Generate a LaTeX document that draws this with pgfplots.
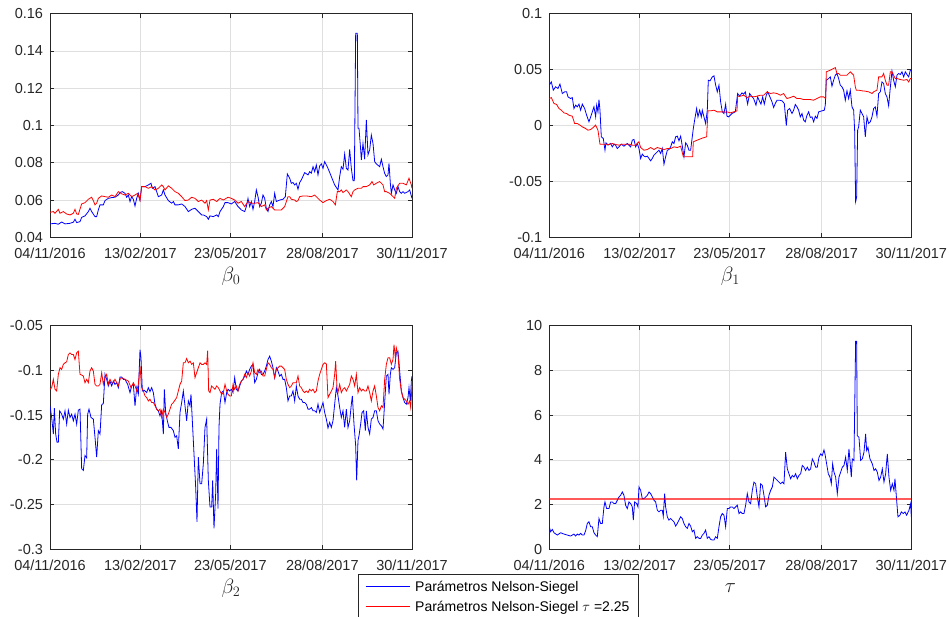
\documentclass[border=0pt]{standalone}
\usepackage{pgfplots}
\pgfplotsset{compat=1.18}
\usepackage{fontspec}
\setmainfont{Liberation Sans}
\definecolor{axisgray}{RGB}{38,38,38}
\definecolor{gridgray}{RGB}{223,223,223}
\definecolor{pureblue}{RGB}{0,0,255}
\definecolor{purered}{RGB}{255,0,0}
\pgfplotsset{
  mstyle/.style={
    scale only axis, width=362bp, height=223.6bp,
    xmin=0, xmax=1086,
    xtick={0,271,541,817,1086},
    xticklabels={04/11/2016,13/02/2017,23/05/2017,28/08/2017,30/11/2017},
    grid=major, grid style={color=gridgray, line width=0.7bp},
    axis line style={color=axisgray, line width=0.8bp},
    tick style={color=axisgray, line width=0.8bp},
    major tick length=4bp, tick align=inside,
    ticklabel style={font=\fontsize{14.5bp}{17bp}\selectfont, text=axisgray},
    xticklabel style={yshift=-7.5bp},
    yticklabel style={xshift=-3.5bp},
    x label style={at={(axis description cs:0.5,0)}, anchor=center, yshift=-39bp, font=\fontsize{20bp}{22bp}\selectfont, text=axisgray},
    every axis plot/.append style={line width=0.8bp},
    bl/.style={draw=pureblue, color=pureblue, mark=none},
    rd/.style={draw=purered, color=purered, mark=none},
  }
}
\begin{document}
\begin{tikzpicture}
\useasboundingbox (0,0) rectangle (949bp,617bp);
% beta0
\begin{axis}[mstyle, at={(50bp,379.7bp)}, anchor=south west,
  ymin=0.04, ymax=0.16, ytick={0.04,0.06,0.08,0.1,0.12,0.14,0.16},
  yticklabels={0.04,0.06,0.08,0.1,0.12,0.14,0.16}, xlabel={$\beta_0$}]
\addplot[bl] coordinates {(0,0.0472)(15,0.0475)(25,0.0470)(35,0.0482)(45,0.0472)(60,0.0475)(70,0.0481)(75,0.0497)(80,0.0479)(90,0.0484)(95,0.0507)(105,0.0515)(115,0.0538)(120,0.0556)(125,0.0538)(135,0.0511)(140,0.0511)(145,0.0547)(150,0.0574)(160,0.0574)(165,0.0597)(175,0.0609)(185,0.0613)(195,0.0615)(205,0.0627)(210,0.0640)(217,0.0645)(225,0.0636)(230,0.0615)(235,0.0627)(240,0.0592)(245,0.0618)(250,0.0604)(255,0.0568)(260,0.0609)(265,0.0636)(270,0.0600)(275,0.0672)(285,0.0672)(295,0.0681)(303,0.0690)(307,0.0663)(315,0.0672)(320,0.0645)(325,0.0618)(335,0.0627)(340,0.0654)(345,0.0627)(355,0.0597)(365,0.0583)(370,0.0592)(375,0.0574)(385,0.0574)(395,0.0579)(405,0.0565)(415,0.0538)(425,0.0550)(435,0.0556)(445,0.0538)(455,0.0520)(460,0.0520)(470,0.0511)(475,0.0497)(480,0.0515)(490,0.0511)(500,0.0520)(505,0.0511)(510,0.0538)(520,0.0565)(525,0.0586)
(534,0.0586)(544,0.0579)(554,0.0592)(564,0.0565)(574,0.0547)(584,0.0538)(589,0.0565)(594,0.0609)(599,0.0565)(604,0.0592)(609,0.0550)(614,0.0592)(619,0.0654)(624,0.0618)(629,0.0565)(634,0.0583)(639,0.0627)(644,0.0609)(649,0.0556)(654,0.0538)(659,0.0574)(664,0.0592)(669,0.0565)(674,0.0636)(679,0.0592)(689,0.0600)(699,0.0604)(706,0.0618)(712,0.0740)(719,0.0717)(724,0.0690)(729,0.0694)(734,0.0681)(739,0.0690)(744,0.0658)(749,0.0694)(754,0.0708)(764,0.0747)(774,0.0735)(779,0.0752)(784,0.0744)(789,0.0779)(794,0.0752)(799,0.0788)(804,0.0735)(809,0.0783)(814,0.0794)(819,0.0770)(824,0.0806)(829,0.0788)(834,0.0770)(844,0.0726)(854,0.0681)(864,0.0654)(869,0.0726)(874,0.0779)(879,0.0765)(884,0.0847)(889,0.0770)(894,0.0761)(899,0.0872)(904,0.0770)(909,0.0704)(913,0.0704)(917,0.1495)(922,0.1495)(924,0.0985)(927,0.0985)(932,0.0869)(934,0.0815)(939,0.0904)(944,0.0819)(949,0.1030)(954,0.0842)(959,0.0869)(964,0.0949)(969,0.0904)(974,0.0806)(979,0.0794)(989,0.0779)(994,0.0819)(999,0.0779)(1004,0.0743)(1009,0.0726)(1014,0.0735)(1017,0.0797)(1021,0.0690)(1024,0.0636)(1029,0.0681)(1034,0.0654)(1039,0.0636)(1044,0.0672)(1049,0.0645)(1054,0.0636)(1059,0.0645)(1064,0.0636)(1074,0.0645)(1079,0.0654)(1086,0.0609)};
\addplot[rd] coordinates {(0,0.0534)(10,0.0538)(15,0.0529)(25,0.0550)(30,0.0529)(40,0.0538)(50,0.0525)(60,0.0520)(70,0.0529)(75,0.0550)(80,0.0525)(85,0.0523)(95,0.0579)(105,0.0586)(115,0.0604)(125,0.0615)(130,0.0597)(135,0.0574)(140,0.0583)(145,0.0609)(155,0.0622)(165,0.0618)(175,0.0615)(185,0.0627)(195,0.0618)(205,0.0645)(215,0.0633)(225,0.0627)(235,0.0636)(245,0.0618)(255,0.0627)(263,0.0636)(270,0.0597)(275,0.0672)(285,0.0672)(295,0.0663)(305,0.0672)(315,0.0654)(325,0.0663)(335,0.0681)(340,0.0672)(345,0.0654)(355,0.0676)(365,0.0663)(375,0.0645)(385,0.0636)(395,0.0618)(405,0.0597)(415,0.0600)(425,0.0615)(435,0.0609)(445,0.0592)(455,0.0600)(465,0.0583)(470,0.0597)(475,0.0547)(480,0.0600)(490,0.0604)(500,0.0592)(510,0.0609)(520,0.0600)
(534,0.0615)(544,0.0609)(554,0.0600)(564,0.0583)(574,0.0592)(584,0.0565)(594,0.0592)(604,0.0583)(614,0.0583)(624,0.0586)(634,0.0565)(644,0.0574)(649,0.0547)(654,0.0556)(664,0.0565)(674,0.0547)(684,0.0547)(694,0.0547)(704,0.0565)(709,0.0592)(714,0.0618)(719,0.0618)(724,0.0604)(734,0.0600)(739,0.0592)(744,0.0597)(749,0.0618)(759,0.0622)(769,0.0622)(784,0.0618)(794,0.0627)(799,0.0618)(809,0.0600)(819,0.0586)(829,0.0597)(839,0.0604)(849,0.0592)(856,0.0574)(862,0.0645)(869,0.0645)(874,0.0654)(879,0.0640)(889,0.0654)(894,0.0645)(904,0.0618)(909,0.0645)(914,0.0654)(924,0.0663)(934,0.0663)(939,0.0672)(949,0.0672)(959,0.0681)(966,0.0699)(971,0.0681)(979,0.0690)(989,0.0699)(999,0.0681)(1004,0.0645)(1009,0.0645)(1019,0.0636)(1029,0.0618)(1034,0.0609)(1039,0.0663)(1049,0.0690)(1059,0.0690)(1069,0.0681)(1077,0.0717)(1084,0.0681)(1086,0.0663)};
\end{axis}
% beta1
\begin{axis}[mstyle, at={(549.3bp,379.7bp)}, anchor=south west,
  ymin=-0.1, ymax=0.1, ytick={-0.1,-0.05,0,0.05,0.1},
  yticklabels={-0.1,-0.05,0,0.05,0.1}, xlabel={$\beta_1$}]
\addplot[bl] coordinates {(0,0.0361)(6,0.0390)(12,0.0316)(19,0.0346)(26,0.0331)(32,0.0370)(39,0.0286)(46,0.0301)(52,0.0301)(56,0.0256)(64,0.0241)(69,0.0250)(74,0.0152)(79,0.0182)(84,0.0167)(89,0.0191)(94,0.0137)(99,0.0191)(106,0.0152)(112,0.0092)(119,0.0033)(124,0.0077)(129,0.0122)(134,0.0167)(139,0.0077)(142,0.0182)(146,0.0122)(149,0.0232)(152,0.0137)(156,-0.0101)(162,-0.0116)(167,-0.0221)(170,-0.0155)(176,-0.0176)(184,-0.0161)(189,-0.0191)(194,-0.0167)(199,-0.0176)(204,-0.0206)(209,-0.0191)(216,-0.0167)(224,-0.0185)(234,-0.0161)(239,-0.0176)(244,-0.0191)(249,-0.0131)(254,-0.0125)(259,-0.0191)(264,-0.0161)(269,-0.0206)(274,-0.0295)(279,-0.0256)(284,-0.0274)(289,-0.0280)(294,-0.0274)(304,-0.0316)(309,-0.0295)(314,-0.0265)(324,-0.0235)(329,-0.0221)(334,-0.0250)(339,-0.0206)(344,-0.0346)(349,-0.0280)(354,-0.0221)(359,-0.0215)(364,-0.0191)(369,-0.0146)(374,-0.0161)(379,-0.0101)(384,-0.0095)(389,-0.0137)(394,-0.0095)(399,-0.0185)(404,-0.0280)(409,-0.0155)(414,-0.0176)(419,-0.0221)(424,-0.0221)(432,-0.0027)(436,0.0048)(442,0.0152)(446,0.0077)(451,0.0137)(456,0.0077)(459,0.0137)(464,0.0077)(469,0.0018)(474,0.0137)(477,0.0405)(482,0.0399)(489,0.0435)(494,0.0444)(499,0.0361)(504,0.0301)(509,0.0361)(514,0.0212)(519,0.0122)(524,0.0107)(529,0.0191)
(533,0.0083)(538,0.0077)(548,0.0107)(558,0.0122)(565,0.0286)(571,0.0262)(578,0.0292)(583,0.0280)(588,0.0301)(595,0.0191)(601,0.0286)(608,0.0256)(613,0.0241)(620,0.0182)(625,0.0256)(630,0.0221)(635,0.0191)(640,0.0256)(645,0.0191)(651,0.0271)(655,0.0301)(661,0.0262)(668,0.0212)(673,0.0161)(678,0.0197)(683,0.0226)(691,0.0226)(698,0.0221)(705,0.0197)(711,0.0000)(715,0.0137)(721,0.0152)(728,0.0107)(733,0.0137)(738,0.0188)(743,0.0167)(748,0.0137)(753,0.0077)(758,0.0107)(763,0.0048)(768,0.0033)(773,0.0092)(778,0.0122)(783,0.0072)(788,0.0077)(793,0.0033)(798,0.0083)(803,0.0063)(808,0.0122)(818,0.0131)(825,0.0137)(828,0.0182)(831,0.0405)(838,0.0420)(843,0.0435)(848,0.0352)(853,0.0405)(858,0.0450)(863,0.0465)(868,0.0420)(873,0.0361)(878,0.0346)(883,0.0316)(888,0.0226)(893,0.0310)(898,0.0241)(903,0.0316)(908,0.0167)(913,0.0137)(916,-0.0042)(919,-0.0682)(922,-0.0638)(925,-0.0042)(928,-0.0012)(933,0.0137)(938,0.0107)(943,0.0077)(948,-0.0101)(953,0.0077)(958,0.0018)(963,0.0033)(968,0.0077)(973,0.0152)(978,0.0167)(983,0.0083)(988,0.0286)(993,0.0301)(998,0.0390)(1003,0.0375)(1008,0.0286)(1013,0.0256)(1018,0.0176)(1023,0.0340)(1028,0.0486)(1033,0.0405)(1038,0.0346)(1043,0.0450)(1048,0.0465)(1053,0.0456)(1058,0.0480)(1063,0.0435)(1068,0.0480)(1073,0.0456)(1078,0.0435)(1083,0.0495)(1086,0.0495)};
\addplot[rd] coordinates {(0,0.0241)(6,0.0250)(14,0.0197)(22,0.0188)(29,0.0152)(36,0.0137)(44,0.0113)(52,0.0107)(59,0.0092)(69,0.0083)(76,0.0018)(84,0.0018)(92,0.0003)(99,-0.0012)(109,-0.0027)(116,-0.0042)(124,-0.0036)(134,-0.0012)(139,0.0003)(146,-0.0042)(152,-0.0167)(159,-0.0167)(169,-0.0167)(179,-0.0170)(189,-0.0161)(199,-0.0170)(209,-0.0176)(219,-0.0167)(229,-0.0167)(239,-0.0167)(249,-0.0176)(259,-0.0176)(269,-0.0146)(274,-0.0197)(284,-0.0221)(294,-0.0215)(304,-0.0197)(314,-0.0215)(324,-0.0197)(334,-0.0206)(344,-0.0215)(354,-0.0206)(364,-0.0206)(374,-0.0191)(384,-0.0197)(394,-0.0185)(402,-0.0280)(414,-0.0280)(424,-0.0280)(430,-0.0280)(432,-0.0146)(439,-0.0137)(449,-0.0125)(459,-0.0113)(472,-0.0101)(476,0.0131)(484,0.0131)(494,0.0137)(504,0.0122)(514,0.0122)(524,0.0122)(529,0.0119)
(533,0.0122)(543,0.0113)(553,0.0122)(563,0.0131)(565,0.0262)(573,0.0262)(583,0.0271)(593,0.0250)(603,0.0262)(613,0.0256)(623,0.0262)(633,0.0271)(643,0.0271)(653,0.0301)(663,0.0286)(673,0.0292)(683,0.0286)(693,0.0271)(703,0.0286)(708,0.0262)(713,0.0241)(723,0.0250)(733,0.0262)(743,0.0241)(753,0.0241)(763,0.0232)(773,0.0232)(783,0.0232)(793,0.0226)(803,0.0241)(813,0.0256)(823,0.0256)(829,0.0241)(831,0.0480)(843,0.0495)(853,0.0510)(858,0.0518)(863,0.0465)(868,0.0465)(873,0.0450)(883,0.0450)(893,0.0450)(903,0.0480)(908,0.0465)(913,0.0450)(918,0.0346)(921,0.0316)(928,0.0316)(938,0.0310)(948,0.0307)(958,0.0301)(968,0.0286)(973,0.0301)(983,0.0316)(988,0.0435)(998,0.0435)(1003,0.0465)(1008,0.0405)(1013,0.0361)(1018,0.0361)(1023,0.0480)(1028,0.0480)(1033,0.0450)(1038,0.0420)(1043,0.0420)(1053,0.0411)(1063,0.0405)(1073,0.0411)(1078,0.0390)(1083,0.0420)(1086,0.0420)};
\end{axis}
% beta2
\begin{axis}[mstyle, at={(50bp,67.7bp)}, anchor=south west,
  ymin=-0.3, ymax=-0.05, ytick={-0.3,-0.25,-0.2,-0.15,-0.1,-0.05},
  yticklabels={-0.3,-0.25,-0.2,-0.15,-0.1,-0.05}, xlabel={$\beta_2$}]
\addplot[bl] coordinates {(0,-0.1396)(5,-0.1526)(10,-0.1711)(13,-0.1422)(17,-0.1711)(21,-0.1804)(25,-0.1804)(29,-0.1452)(35,-0.1489)(40,-0.1544)(45,-0.1452)(50,-0.1600)(55,-0.1444)(60,-0.1526)(65,-0.1489)(70,-0.1563)(75,-0.1489)(80,-0.1600)(85,-0.1444)(90,-0.1433)(95,-0.2100)(100,-0.2119)(105,-0.1952)(110,-0.1978)(113,-0.1489)(117,-0.1433)(123,-0.1526)(130,-0.1544)(135,-0.1748)(140,-0.1970)(145,-0.1674)(150,-0.1711)(155,-0.1385)(160,-0.1370)(165,-0.1044)(170,-0.1100)(175,-0.1174)(180,-0.1119)(185,-0.1174)(190,-0.1119)(195,-0.1156)(200,-0.1137)(205,-0.1193)(210,-0.1074)(215,-0.1074)(220,-0.1100)(225,-0.1100)(233,-0.1156)(240,-0.1248)(245,-0.1174)(250,-0.1156)(255,-0.1396)(260,-0.1193)(265,-0.1267)(270,-0.0767)(273,-0.0859)(277,-0.1230)(283,-0.1222)(290,-0.1248)(295,-0.1193)(300,-0.1237)(305,-0.1193)(310,-0.1248)(315,-0.1378)(320,-0.1433)(325,-0.1452)(330,-0.1507)(335,-0.1452)(340,-0.1711)(343,-0.1211)(347,-0.1470)(352,-0.1563)(357,-0.1637)(363,-0.1637)(370,-0.1674)(375,-0.1748)(380,-0.1730)(385,-0.1878)(390,-0.1470)(395,-0.1359)(400,-0.1230)(405,-0.1396)(410,-0.1563)(415,-0.1341)(420,-0.1396)(423,-0.1267)(427,-0.1563)(432,-0.1933)(437,-0.2304)(441,-0.2693)(445,-0.1970)(450,-0.2267)(455,-0.2267)(460,-0.2044)(465,-0.1637)(470,-0.1544)(475,-0.2230)(480,-0.2526)(485,-0.2526)(488,-0.2230)(492,-0.2767)(497,-0.2378)(500,-0.1878)(504,-0.2544)(507,-0.1637)(510,-0.1378)(515,-0.1248)(520,-0.1230)(525,-0.1359)(530,-0.1248)
(534,-0.1211)(539,-0.1230)(544,-0.1211)(549,-0.1248)(554,-0.1081)(559,-0.1211)(564,-0.1230)(569,-0.1174)(574,-0.1119)(579,-0.1100)(584,-0.1063)(589,-0.1007)(594,-0.1044)(599,-0.0989)(604,-0.0952)(609,-0.0933)(614,-0.1137)(619,-0.1100)(624,-0.1026)(629,-0.0989)(634,-0.1044)(639,-0.1044)(644,-0.1007)(649,-0.0952)(654,-0.0878)(659,-0.0841)(664,-0.0896)(669,-0.0970)(674,-0.1081)(679,-0.0970)(684,-0.1007)(689,-0.1063)(694,-0.1044)(699,-0.1100)(704,-0.1100)(709,-0.1193)(714,-0.1341)(719,-0.1285)(724,-0.1285)(729,-0.1230)(734,-0.1341)(739,-0.1174)(744,-0.1285)(749,-0.1322)(754,-0.1322)(759,-0.1359)(764,-0.1359)(769,-0.1378)(774,-0.1433)(779,-0.1433)(784,-0.1415)(789,-0.1452)(794,-0.1452)(799,-0.1470)(804,-0.1378)(809,-0.1470)(814,-0.1415)(819,-0.1359)(824,-0.1470)(829,-0.1544)(834,-0.1644)(839,-0.1581)(844,-0.1637)(849,-0.1563)(854,-0.1378)(859,-0.1193)(864,-0.1285)(869,-0.1415)(874,-0.1526)(879,-0.1452)(884,-0.1637)(889,-0.1433)(894,-0.1637)(899,-0.1563)(904,-0.1378)(907,-0.1285)(912,-0.1600)(917,-0.1841)(920,-0.2230)(924,-0.1785)(927,-0.1730)(932,-0.1600)(936,-0.1470)(941,-0.1452)(946,-0.1674)(949,-0.1452)(954,-0.1637)(959,-0.1711)(964,-0.1544)(969,-0.1526)(974,-0.1452)(979,-0.1452)(984,-0.1563)(989,-0.1600)(994,-0.1619)(999,-0.1656)(1004,-0.1359)(1009,-0.1063)(1014,-0.1044)(1017,-0.1267)(1021,-0.1044)(1024,-0.0970)(1029,-0.0989)(1034,-0.0970)(1039,-0.0804)(1044,-0.0785)(1049,-0.1007)(1054,-0.1230)(1059,-0.1304)(1064,-0.1359)(1069,-0.1378)(1074,-0.1304)(1077,-0.1193)(1081,-0.1341)(1084,-0.1119)(1086,-0.1063)};
\addplot[rd] coordinates {(0,-0.1211)(5,-0.1193)(10,-0.1100)(15,-0.1211)(20,-0.1230)(25,-0.1044)(30,-0.0970)(35,-0.0989)(40,-0.0933)(45,-0.0915)(50,-0.0904)(55,-0.0822)(60,-0.0804)(65,-0.0822)(70,-0.0822)(75,-0.0878)(80,-0.0804)(85,-0.0785)(90,-0.1044)(95,-0.1052)(100,-0.1063)(105,-0.1137)(110,-0.1100)(115,-0.1137)(120,-0.1007)(125,-0.0970)(130,-0.1007)(135,-0.1156)(140,-0.1174)(145,-0.1174)(150,-0.1156)(155,-0.1026)(160,-0.1156)(165,-0.1081)(170,-0.1044)(175,-0.1156)(180,-0.1100)(185,-0.1137)(190,-0.1137)(195,-0.1100)(205,-0.1174)(210,-0.1100)(215,-0.1081)(225,-0.1100)(235,-0.1119)(243,-0.1193)(250,-0.1137)(255,-0.1174)(260,-0.1230)(265,-0.1156)(270,-0.0952)(275,-0.1193)(280,-0.1230)(285,-0.1285)(290,-0.1304)(295,-0.1341)(300,-0.1322)(305,-0.1359)(310,-0.1359)(315,-0.1396)(320,-0.1433)(325,-0.1452)(330,-0.1433)(335,-0.1526)(340,-0.1433)(345,-0.1470)(350,-0.1526)(355,-0.1489)(360,-0.1433)(365,-0.1378)(370,-0.1359)(380,-0.1304)(385,-0.1230)(390,-0.1156)(395,-0.1119)(400,-0.0915)(405,-0.0915)(410,-0.0867)(415,-0.0915)(420,-0.0896)(425,-0.0933)(430,-0.0915)(435,-0.1081)(440,-0.1026)(445,-0.0970)(450,-0.0915)(455,-0.0933)(460,-0.0933)(465,-0.0915)(470,-0.0933)(473,-0.0778)(476,-0.1230)(480,-0.1248)(485,-0.1174)(490,-0.1193)(495,-0.1211)(500,-0.1174)(505,-0.1193)(510,-0.1230)(515,-0.1267)(520,-0.1248)(525,-0.1156)(530,-0.1230)
(534,-0.1267)(539,-0.1285)(544,-0.1285)(549,-0.1156)(554,-0.1211)(559,-0.1174)(564,-0.1230)(569,-0.1156)(574,-0.1119)(579,-0.1100)(584,-0.1044)(589,-0.1081)(594,-0.1026)(599,-0.1063)(604,-0.1007)(609,-0.0915)(614,-0.1026)(619,-0.1044)(624,-0.0989)(629,-0.1026)(634,-0.1007)(639,-0.1063)(644,-0.1063)(649,-0.0989)(654,-0.0915)(659,-0.0933)(664,-0.0970)(669,-0.0989)(674,-0.1081)(679,-0.0989)(684,-0.0970)(689,-0.0952)(694,-0.0952)(699,-0.0970)(704,-0.0989)(709,-0.1100)(714,-0.1156)(719,-0.1193)(724,-0.1174)(729,-0.1137)(734,-0.1137)(739,-0.1137)(744,-0.1063)(749,-0.1174)(754,-0.1193)(759,-0.1230)(764,-0.1248)(769,-0.1230)(774,-0.1248)(779,-0.1211)(784,-0.1230)(789,-0.1211)(794,-0.1248)(799,-0.1230)(804,-0.1119)(809,-0.1044)(814,-0.0989)(819,-0.0933)(824,-0.0915)(829,-0.0926)(834,-0.1304)(839,-0.1267)(844,-0.1230)(849,-0.1193)(854,-0.1044)(857,-0.0896)(861,-0.1193)(864,-0.1248)(869,-0.1156)(874,-0.1248)(879,-0.1211)(884,-0.1193)(889,-0.1230)(894,-0.1193)(899,-0.1156)(904,-0.1063)(909,-0.1100)(914,-0.1174)(919,-0.1044)(924,-0.1248)(929,-0.1193)(934,-0.1230)(939,-0.1211)(944,-0.1230)(949,-0.1230)(954,-0.1174)(959,-0.1248)(964,-0.1341)(969,-0.1230)(974,-0.1174)(979,-0.1285)(984,-0.1415)(989,-0.1452)(994,-0.1396)(999,-0.1415)(1004,-0.1100)(1009,-0.0933)(1014,-0.0859)(1019,-0.0859)(1024,-0.0933)(1029,-0.0878)(1032,-0.0711)(1036,-0.0859)(1039,-0.0748)(1044,-0.0822)(1049,-0.1100)(1054,-0.1230)(1059,-0.1304)(1064,-0.1322)(1069,-0.1341)(1074,-0.1378)(1079,-0.1341)(1082,-0.1415)(1086,-0.1174)};
\end{axis}
% tau
\begin{axis}[mstyle, at={(549.3bp,67.7bp)}, anchor=south west,
  ymin=0, ymax=10, ytick={0,2,4,6,8,10},
  yticklabels={0,2,4,6,8,10}, xlabel={$\tau$},
  legend style={at={(axis description cs:-0.5285,-0.112)}, anchor=north west,
    draw=axisgray, fill=white,
    font=\fontsize{14bp}{16bp}\selectfont,
    cells={anchor=west}, row sep=4bp, column sep=3bp, inner xsep=7bp, inner ysep=4.5bp},
  legend image code/.code={\draw[#1,line width=1bp] (0bp,0bp) -- (44bp,0bp);}]
\addplot[bl] coordinates {(0,1.007)(4,0.785)(9,0.889)(14,0.741)(24,0.637)(34,0.741)(44,0.681)(54,0.637)(64,0.593)(74,0.681)(79,0.593)(84,0.681)(89,0.637)(94,0.711)(99,0.637)(104,0.637)(109,0.830)(114,1.156)(119,1.230)(124,1.007)(129,1.007)(134,0.741)(139,0.637)(144,0.563)(149,1.378)(154,1.156)(159,1.156)(164,1.896)(167,2.119)(172,1.822)(179,1.822)(184,2.119)(189,2.119)(194,2.044)(199,2.044)(204,2.193)(209,2.341)(214,2.415)(219,2.563)(224,2.415)(229,1.970)(234,1.822)(239,2.119)(244,2.044)(249,1.896)(252,1.304)(256,2.119)(262,2.044)(266,1.896)(269,2.785)(274,2.637)(279,2.267)(284,2.267)(289,2.341)(294,2.415)(299,2.563)(304,2.489)(309,2.341)(314,2.193)(319,2.119)(324,1.748)(329,1.674)(334,1.748)(339,1.748)(342,1.481)(346,2.489)(349,1.896)(354,1.452)(359,1.304)(364,1.378)(369,1.304)(374,1.230)(379,1.037)(384,1.156)(389,1.304)(394,1.452)(399,1.378)(404,1.156)(409,1.007)(414,0.933)(419,1.156)(424,1.037)(429,0.785)(434,0.859)(439,0.489)(444,0.563)(449,0.489)(454,0.489)(459,0.637)(464,0.711)(469,0.859)(474,0.489)(479,0.563)(484,0.444)(489,0.415)(494,0.415)(499,0.563)(504,0.489)(509,1.007)(514,1.452)(519,1.600)(524,1.526)(529,1.007)(534,1.822)(539,1.822)(544,1.896)(549,1.896)(554,1.822)(559,1.896)(564,1.970)(569,1.600)(574,1.674)(579,1.600)(584,1.600)(589,1.970)(594,2.489)(599,2.119)(604,2.044)(609,2.637)(614,3.007)(619,2.933)(624,2.341)(629,1.896)(634,2.933)(639,2.859)(644,2.415)(649,1.896)(654,1.970)(659,2.415)(664,2.637)(669,2.785)(674,3.230)(679,3.156)(684,3.081)(689,3.007)(694,2.933)(699,3.007)(704,2.933)(709,4.341)(714,3.600)(719,3.378)(724,3.156)(729,3.304)(734,3.230)(739,3.378)(744,3.156)(749,3.304)(754,3.378)(759,3.748)(764,3.674)(769,3.526)(774,3.674)(779,3.526)(784,3.600)(789,4.044)(794,3.896)(799,3.674)(804,3.674)(809,4.119)(814,4.267)(819,4.193)(824,4.444)(827,4.267)(832,3.822)(837,3.378)(842,3.230)(846,2.933)(850,3.822)(854,3.452)(859,3.230)(864,2.489)(869,3.230)(874,3.452)(879,3.674)(884,3.748)(889,4.119)(894,3.526)(899,4.489)(902,3.970)(906,3.230)(909,4.044)(914,3.970)(919,9.304)(922,9.304)(924,5.081)(929,5.007)(934,3.970)(939,4.044)(944,4.341)(949,5.156)(952,4.415)(956,4.563)(962,4.044)(969,3.822)(974,3.526)(979,3.600)(984,3.452)(989,3.081)(994,3.230)(999,3.600)(1004,3.007)(1009,3.378)(1014,4.267)(1019,3.230)(1024,2.637)(1029,2.933)(1034,2.637)(1037,3.156)(1042,2.193)(1046,1.452)(1052,1.526)(1056,1.674)(1062,1.600)(1067,1.674)(1072,1.526)(1079,1.748)(1084,2.044)(1086,1.452)};
\addlegendentry{Parámetros Nelson-Siegel}
\addplot[rd, line width=1.3bp, forget plot] coordinates {(0,2.25)(100,2.2501)(200,2.25)(300,2.2501)(400,2.25)(500,2.2501)(600,2.25)(700,2.2501)(800,2.25)(900,2.2501)(1000,2.25)(1086,2.2501)};
\addlegendimage{rd}
\addlegendentry{{Parámetros Nelson-Siegel $\tau$ =2.25}}
\end{axis}
\end{tikzpicture}
\end{document}
